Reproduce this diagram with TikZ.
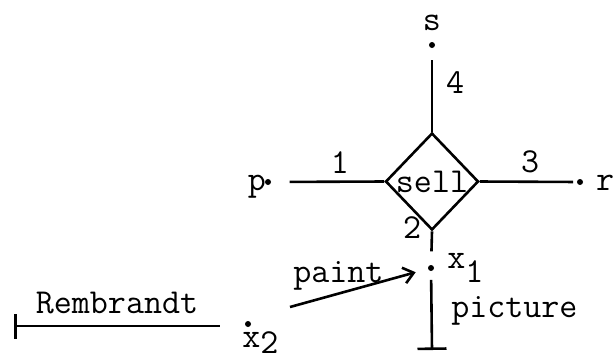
\documentclass[tikz,border=0pt]{standalone}
\usepackage{fontspec}
\usepackage{tikz}
\usetikzlibrary{shapes.geometric, arrows.meta}

\begin{document}
\begin{tikzpicture}[x=0.5pt, y=-0.5pt, line width=1.3pt,
    every node/.style={font=\ttfamily\addfontfeatures{FakeBold=0.8}\fontsize{17.5}{20}\selectfont, inner sep=0pt},
    dotnode/.style={circle, fill, minimum size=3pt},
    relbox/.style={diamond, draw, minimum width=46.5pt, minimum height=48.5pt}]
    \useasboundingbox (0,0) rectangle (613,360);

    % relation and its role ends
    \node (sell) [relbox, label=center:sell] at (432,181.5) {};
    \node (sdot) [dotnode] at (432,45) {};
    \node (pdot) [dotnode] at (268,182) {};
    \node (rdot) [dotnode] at (580,182) {};
    \node (xone) [dotnode] at (431,268) {};
    \node (xtwo) [dotnode] at (248,324) {};
    \coordinate (tend) at (432,350);
    \coordinate (paintstart) at (290,307);
    \coordinate (rembL) at (14,326);
    \coordinate (rembR) at (220,326);

    % labels
    \node (slabel) [anchor=base] at (432,30) {s};
    \node (plabel) [anchor=base] at (257,190) {p};
    \node (rlabel) [anchor=base] at (605,190) {r};
    \node (one) [anchor=base] at (340,173) {1};
    \node (two) [anchor=base] at (412,238) {2};
    \node (three) [anchor=base] at (530,172) {3};
    \node (four) [anchor=base] at (455,93) {4};
    \node (xonelabel) [anchor=base west] at (446,268) {x\raisebox{-7pt}{1}};
    \node (xtwolabel) [anchor=base west] at (241,347) {x\raisebox{-3pt}{2}};
    \node (picture) [anchor=base west] at (450,317) {picture};
    \node (paint) [anchor=base west] at (292,282) {paint};

    % connectors
    \draw[shorten >=5.2pt] (sell.north) -- (sdot);
    \draw[shorten >=8.7pt] (sell.west) -- (pdot);
    \draw[shorten >=1.3pt] (sell.east) -- (rdot);
    \draw[shorten >=6.2pt] (sell.south) -- (xone);
    \draw[-{Bar[width=14.5pt]}, shorten <=3.8pt] (xone) -- (tend);
    \draw[-{Straight Barb[length=5pt, width=8pt]}, shorten >=5.8pt] (paintstart) -- (xone);
    \draw[{Bar[width=12.5pt]}-] (rembL) -- node[above=5.5pt] {Rembrandt} (rembR);
\end{tikzpicture}
\end{document}
